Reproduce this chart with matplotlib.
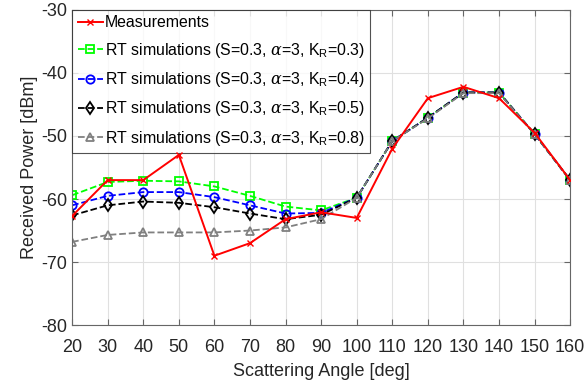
import numpy as np
import matplotlib.pyplot as plt

plt.rcParams['font.family'] = ['Liberation Sans', 'DejaVu Sans']
plt.rcParams['mathtext.fontset'] = 'custom'
plt.rcParams['mathtext.rm'] = 'Liberation Sans'
plt.rcParams['mathtext.it'] = 'DejaVu Serif:italic'
plt.rcParams['axes.unicode_minus'] = False

angles = [20, 30, 40, 50, 60, 70, 80, 90, 100, 110, 120, 130, 140, 150, 160]
meas = [-62.7, -57, -57, -53, -69, -67, -63.2, -62.1, -63, -52, -44, -42.2, -44, -49.5, -57]
kr03 = [-59.4, -57.3, -57.1, -57.2, -58, -59.5, -61.2, -61.8, -59.8, -50.8, -47.1, -43.1, -43.1, -49.7, -57]
kr04 = [-61, -59.5, -58.9, -58.9, -59.7, -61, -62.3, -62.2, -59.8, -50.8, -47.1, -43.1, -43.1, -49.7, -57]
kr05 = [-62.6, -61, -60.4, -60.6, -61.3, -62.3, -63.2, -62.5, -59.8, -50.8, -47.1, -43.1, -43.1, -49.7, -57]
kr08 = [-66.8, -65.7, -65.3, -65.3, -65.3, -65, -64.5, -63.2, -59.8, -50.8, -47.2, -43.2, -43.2, -49.7, -57]

fig, ax = plt.subplots(figsize=(5.86, 3.82), dpi=100)
fig.subplots_adjust(left=0.123, right=0.973, top=0.974, bottom=0.149)

ax.plot(angles, meas, '-x', color='red', lw=1.4, ms=5, label='Measurements', zorder=6)
ax.plot(angles, kr03, '--s', color=(0, 1, 0), lw=1.3, ms=5.5, mfc='none', mew=1.3,
        label=r'RT simulations (S=0.3, $\alpha$=3, K$_{\rm R}$=0.3)')
ax.plot(angles, kr04, '--o', color='blue', lw=1.3, ms=6, mfc='none', mew=1.3,
        label=r'RT simulations (S=0.3, $\alpha$=3, K$_{\rm R}$=0.4)')
ax.plot(angles, kr05, '--d', color='black', lw=1.3, ms=6, mfc='none', mew=1.3,
        label=r'RT simulations (S=0.3, $\alpha$=3, K$_{\rm R}$=0.5)')
ax.plot(angles, kr08, '--^', color=(0.5, 0.5, 0.5), lw=1.3, ms=6, mfc='none', mew=1.3,
        label=r'RT simulations (S=0.3, $\alpha$=3, K$_{\rm R}$=0.8)')

ax.set_xlim(20, 160)
ax.set_ylim(-80, -30)
ax.set_xticks(np.arange(20, 161, 10))
ax.set_yticks(np.arange(-80, -29, 10))
ax.grid(True, color=(0.88, 0.88, 0.88), lw=0.8)
ax.set_axisbelow(True)
for s in ax.spines.values():
    s.set_color((0.4, 0.4, 0.4))
ax.tick_params(direction='in', top=True, right=True, labelsize=13, colors=(0.4, 0.4, 0.4),
               labelcolor=(0.15, 0.15, 0.15), length=4)
ax.tick_params(axis='x', pad=10)
ax.set_xlabel('Scattering Angle [deg]', fontsize=13, color=(0.15, 0.15, 0.15), labelpad=5)
ax.set_ylabel('Received Power [dBm]', fontsize=13, color=(0.15, 0.15, 0.15), labelpad=2)

leg = ax.legend(loc='upper left', fontsize=11.4, frameon=True, fancybox=False,
                edgecolor=(0.15, 0.15, 0.15), handlelength=1.6, handletextpad=0.1,
                borderaxespad=0.0, labelspacing=0.65, borderpad=0.35)
leg.get_frame().set_linewidth(0.8)

fig.savefig('out.png', dpi=100)
